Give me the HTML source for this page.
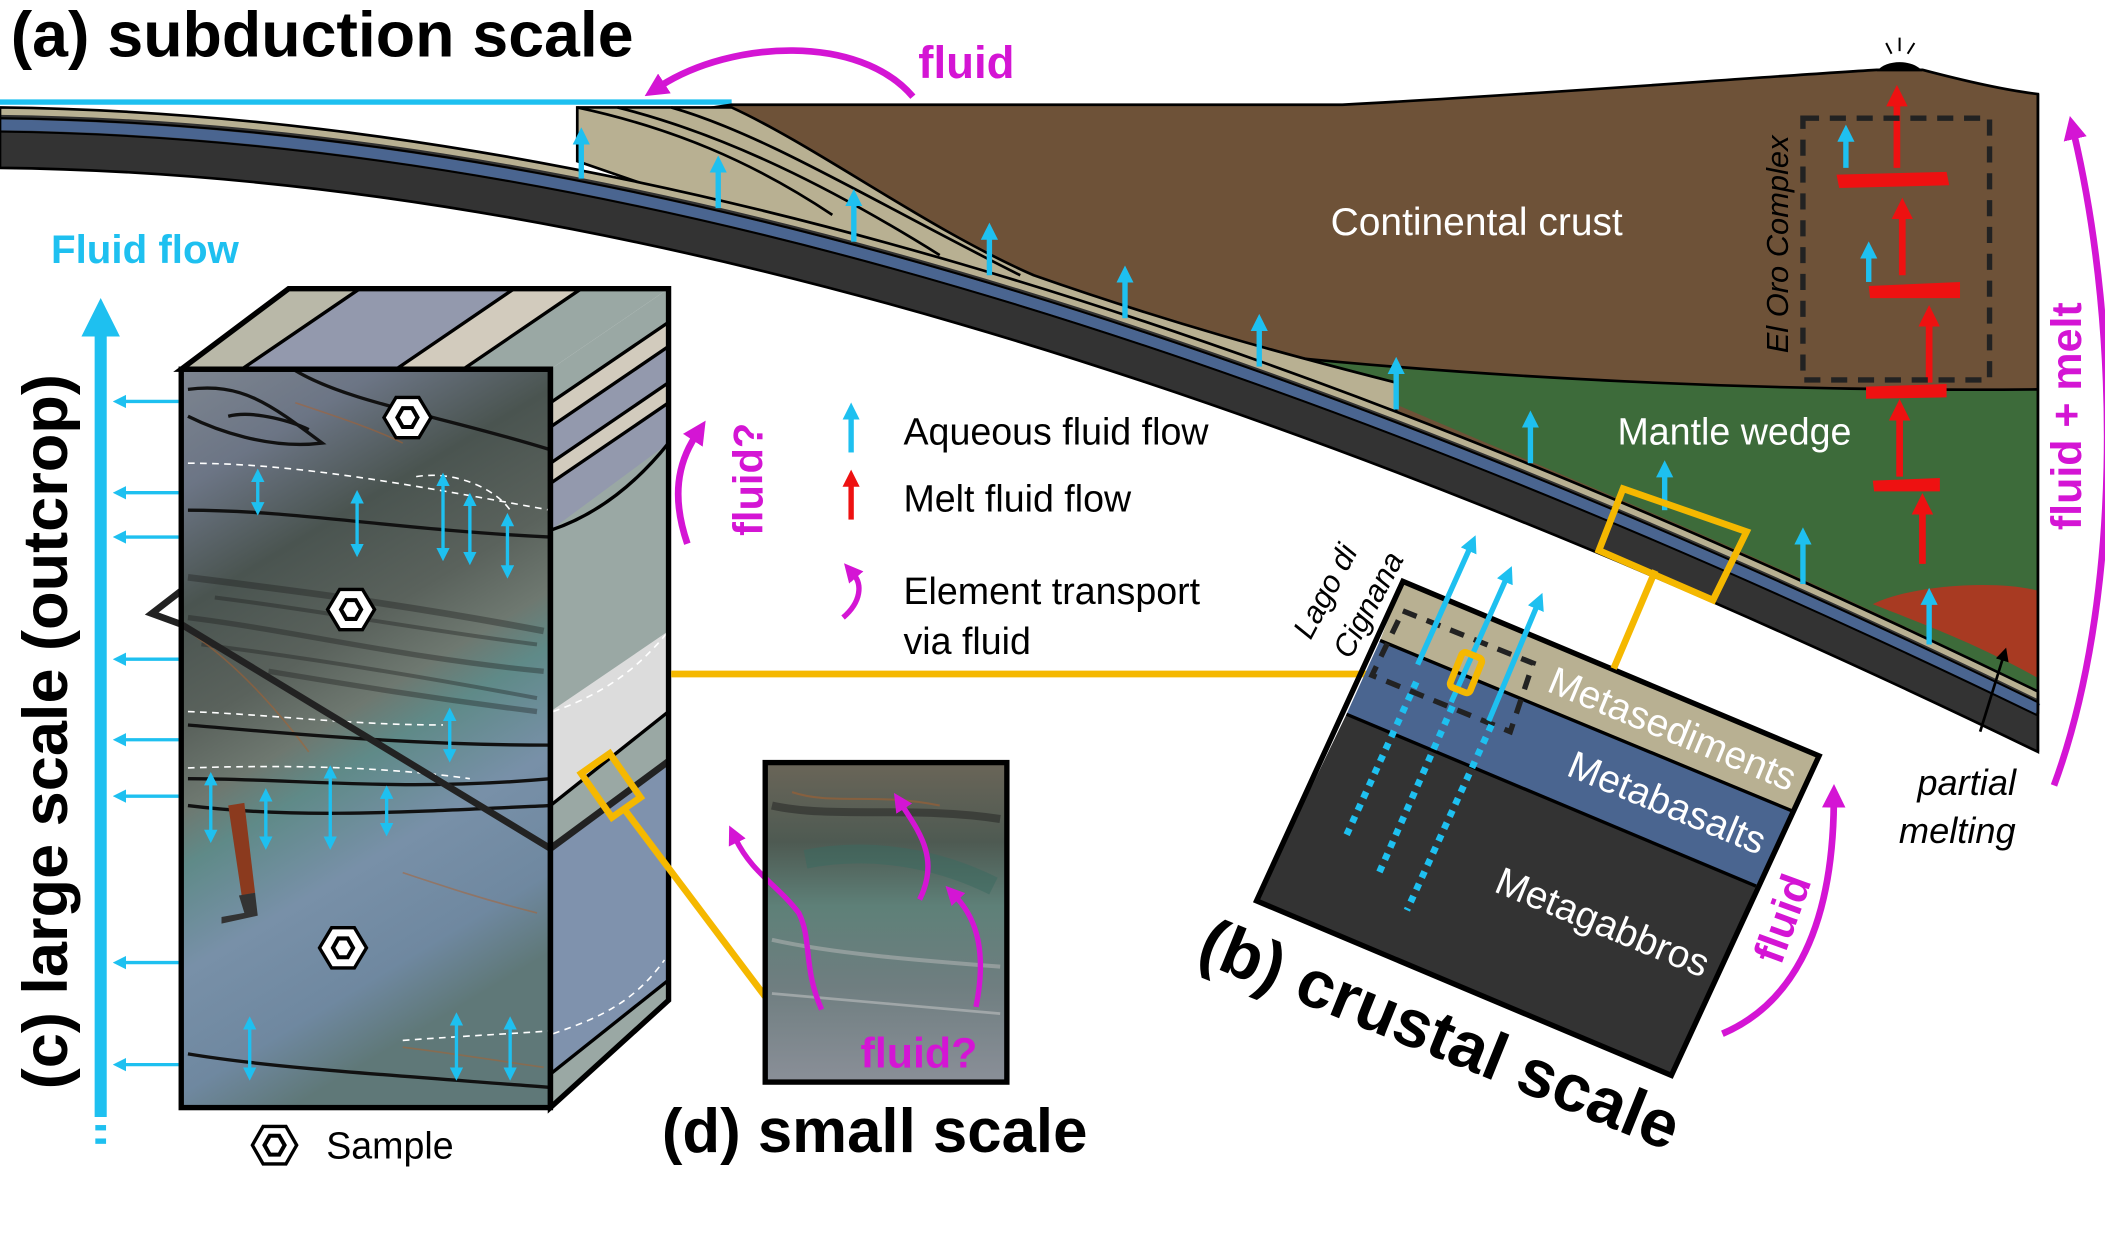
<!DOCTYPE html>
<html><head><meta charset="utf-8"><style>
html,body{margin:0;padding:0;background:#fff;}
svg{display:block;}
text{font-family:"Liberation Sans",Arial,sans-serif;}
</style></head><body>
<svg width="2105" height="1258" viewBox="0 0 1568 937" xmlns="http://www.w3.org/2000/svg">
<defs>
<marker id="hc" viewBox="0 0 10 10" refX="2" refY="5" markerWidth="3.2" markerHeight="3.2" orient="auto-start-reverse"><path d="M0,0 L10,5 L0,10 z" fill="#1ec0f0"/></marker>
<marker id="hc2" viewBox="0 0 10 10" refX="2" refY="5" markerWidth="4" markerHeight="4" orient="auto-start-reverse"><path d="M0,0 L10,5 L0,10 z" fill="#1ec0f0"/></marker>
<marker id="hr" viewBox="0 0 10 10" refX="2" refY="5" markerWidth="3.2" markerHeight="3.2" orient="auto"><path d="M0,0 L10,5 L0,10 z" fill="#ee1111"/></marker>
<marker id="hm" viewBox="0 0 10 10" refX="2" refY="5" markerWidth="3.5" markerHeight="3.5" orient="auto"><path d="M0,0 L10,5 L0,10 z" fill="#d415d4"/></marker>
<marker id="hk" viewBox="0 0 10 10" refX="2" refY="5" markerWidth="5" markerHeight="5" orient="auto"><path d="M0,0 L10,5 L0,10 z" fill="#000"/></marker>
<linearGradient id="photo" x1="0" y1="0" x2="0.3" y2="1">
<stop offset="0" stop-color="#7d8590"/><stop offset="0.15" stop-color="#6c7585"/><stop offset="0.3" stop-color="#4a5450"/><stop offset="0.45" stop-color="#5a625c"/><stop offset="0.55" stop-color="#6e7870"/><stop offset="0.62" stop-color="#5f8a88"/><stop offset="0.75" stop-color="#7890a8"/><stop offset="0.9" stop-color="#6f88a0"/><stop offset="1" stop-color="#5f7878"/>
</linearGradient>
<linearGradient id="photo2" x1="0" y1="0" x2="0" y2="1">
<stop offset="0" stop-color="#6a6558"/><stop offset="0.25" stop-color="#4e5a52"/><stop offset="0.45" stop-color="#5e8078"/><stop offset="0.7" stop-color="#6f7e80"/><stop offset="1" stop-color="#8a8f98"/>
</linearGradient>
</defs>

<!-- ===== (a) subduction ===== -->
<text x="8" y="42" font-size="48" font-weight="bold">(a) subduction scale</text>
<line x1="0" y1="76" x2="545" y2="76" stroke="#1ec0f0" stroke-width="4"/>
<!-- brown crust -->
<path d="M545,78 L1000,78 C1150,70 1300,58 1398,52 L1432,52 C1470,62 1500,68 1518,70 L1518,530 C1100,330 700,170 430,95 Z" fill="#6e5238" stroke="#000" stroke-width="2"/>
<!-- mantle wedge -->
<path d="M960,266 C1100,280 1300,292 1518,290 L1518,515 C1300,405 1100,330 960,266 Z" fill="#3d6b3a"/>
<path d="M960,266 C1100,280 1300,292 1518,290" fill="none" stroke="#000" stroke-width="2"/>
<path d="M1395,450 C1425,435 1490,432 1518,440 L1518,505 C1470,478 1425,462 1395,450 Z" fill="#a83a22"/>
<!-- tan wedge -->
<path d="M430,80 L545,80 C610,110 690,170 770,205 C870,240 950,262 1040,285 L1040,330 L430,120 Z" fill="#b8b092" stroke="#000" stroke-width="2"/>
<path d="M430,80 C500,95 560,120 620,160" fill="none" stroke="#000" stroke-width="2"/>
<path d="M460,80 C540,100 620,140 700,190" fill="none" stroke="#000" stroke-width="2"/>
<path d="M500,80 C570,100 650,150 760,205" fill="none" stroke="#000" stroke-width="2"/>
<!-- slab -->
<path d="M0,80 C450,85 950,240 1518,515 L1518,560 C950,285 450,130 0,125 Z" fill="#333"/>
<path d="M0,83 C450,88 950,243 1518,518" fill="none" stroke="#b8b092" stroke-width="5"/>
<path d="M0,93 C450,98 950,253 1518,528" fill="none" stroke="#4a6590" stroke-width="8"/>
<path d="M0,88 C450,93 950,248 1518,523" fill="none" stroke="#000" stroke-width="1.5"/>
<path d="M0,98 C450,103 950,258 1518,533" fill="none" stroke="#000" stroke-width="1.5"/>
<path d="M0,80 C450,85 950,240 1518,515 L1518,560 C950,285 450,130 0,125 Z" fill="none" stroke="#000" stroke-width="2"/>
<line x1="1518" y1="70" x2="1518" y2="560" stroke="#000" stroke-width="2"/>
<!-- volcano -->
<path d="M1398,53 C1405,44 1425,44 1432,53 Z" fill="#000"/>
<path d="M1409,40 L1405,32 M1415,38 L1415,28 M1421,40 L1426,32" stroke="#000" stroke-width="1.5"/>
<!-- slab arrows -->
<g stroke="#1ec0f0" stroke-width="4" marker-end="url(#hc)">
<line x1="433" y1="133" x2="433" y2="105"/><line x1="535" y1="155" x2="535" y2="126"/>
<line x1="636" y1="180" x2="636" y2="151"/><line x1="737" y1="205" x2="737" y2="176"/>
<line x1="838" y1="237" x2="838" y2="208"/><line x1="938" y1="273" x2="938" y2="244"/>
<line x1="1040" y1="305" x2="1040" y2="276"/><line x1="1140" y1="345" x2="1140" y2="316"/>
<line x1="1240" y1="380" x2="1240" y2="353"/><line x1="1343" y1="435" x2="1343" y2="403"/>
<line x1="1437" y1="480" x2="1437" y2="448"/>
<line x1="1375" y1="125" x2="1375" y2="103"/><line x1="1392" y1="210" x2="1392" y2="190"/>
</g>
<!-- red melt -->
<g stroke="#ee1111" stroke-width="5" marker-end="url(#hr)">
<line x1="1413" y1="125" x2="1413" y2="76"/><line x1="1417" y1="205" x2="1417" y2="160"/>
<line x1="1437" y1="285" x2="1437" y2="240"/><line x1="1415" y1="355" x2="1415" y2="310"/>
<line x1="1432" y1="420" x2="1432" y2="380"/>
</g>
<g fill="#ee1111">
<path d="M1368,130 L1450,128 L1452,138 L1370,140 Z"/>
<path d="M1392,213 L1460,210 L1460,222 L1393,222 Z"/>
<path d="M1390,288 L1450,286 L1450,296 L1390,297 Z"/>
<path d="M1395,358 L1445,356 L1445,366 L1396,366 Z"/>
</g>
<rect x="1343" y="88" width="139" height="195" fill="none" stroke="#222" stroke-width="4" stroke-dasharray="12,8"/>
<text transform="translate(1332,182) rotate(-90)" text-anchor="middle" font-size="23" font-style="italic">El Oro Complex</text>
<text x="1100" y="175" text-anchor="middle" font-size="29" fill="#fff">Continental crust</text>
<text x="1292" y="331" text-anchor="middle" font-size="28" fill="#fff">Mantle wedge</text>
<text x="1465" y="592" text-anchor="middle" font-size="27" font-style="italic">partial</text>
<text x="1458" y="628" text-anchor="middle" font-size="27" font-style="italic">melting</text>
<line x1="1475" y1="545" x2="1492" y2="490" stroke="#000" stroke-width="2" marker-end="url(#hk)"/>
<!-- fluid arrows -->
<path d="M680,72 C640,25 545,30 492,64" fill="none" stroke="#d415d4" stroke-width="5" marker-end="url(#hm)"/>
<text x="684" y="58" font-size="34" font-weight="bold" fill="#d415d4">fluid</text>
<path d="M1530,585 C1580,450 1580,250 1545,100" fill="none" stroke="#d415d4" stroke-width="5" marker-end="url(#hm)"/>
<text transform="translate(1550,310) rotate(-90)" text-anchor="middle" font-size="32" font-weight="bold" fill="#d415d4">fluid + melt</text>

<!-- legend -->
<line x1="634" y1="337" x2="634" y2="310" stroke="#1ec0f0" stroke-width="4" marker-end="url(#hc)"/>
<text x="673" y="331" font-size="28">Aqueous fluid flow</text>
<line x1="634" y1="387" x2="634" y2="360" stroke="#ee1111" stroke-width="4" marker-end="url(#hr)"/>
<text x="673" y="381" font-size="28">Melt fluid flow</text>
<path d="M628,460 C642,448 642,435 636,428" fill="none" stroke="#d415d4" stroke-width="4" marker-end="url(#hm)"/>
<text x="673" y="450" font-size="28">Element transport</text>
<text x="673" y="487" font-size="28">via fluid</text>

<!-- ===== (c) ===== -->
<text x="38" y="196" font-size="30" font-weight="bold" fill="#1ec0f0">Fluid flow</text>
<line x1="75" y1="832" x2="75" y2="245" stroke="#1ec0f0" stroke-width="9" marker-end="url(#hc)"/>
<rect x="71" y="838" width="8" height="4" fill="#1ec0f0"/><rect x="71" y="848" width="8" height="4" fill="#1ec0f0"/>
<g stroke="#1ec0f0" stroke-width="2.5" marker-end="url(#hc2)">
<line x1="133" y1="299" x2="92" y2="299"/><line x1="133" y1="367" x2="92" y2="367"/>
<line x1="133" y1="400" x2="92" y2="400"/><line x1="133" y1="491" x2="92" y2="491"/>
<line x1="133" y1="551" x2="92" y2="551"/><line x1="133" y1="593" x2="92" y2="593"/>
<line x1="133" y1="717" x2="92" y2="717"/><line x1="133" y1="793" x2="92" y2="793"/>
</g>
<text transform="translate(50,545) rotate(-90)" text-anchor="middle" font-size="47" font-weight="bold">(c) large scale (outcrop)</text>

<!-- top face -->
<polygon points="135,275 215,215 498,215 410,275" fill="#9aa8a4"/>
<polygon points="135,275 215,215 268,215 180,275" fill="#b9b8a8"/>
<polygon points="180,275 268,215 383,215 295,275" fill="#9399ad"/>
<polygon points="295,275 383,215 433,215 345,275" fill="#d2cbbd"/>
<g stroke="#000" stroke-width="2.5"><line x1="180" y1="275" x2="268" y2="215"/><line x1="295" y1="275" x2="383" y2="215"/><line x1="345" y1="275" x2="433" y2="215"/></g>
<!-- right face -->
<polygon points="410,275 498,215 498,745 410,825" fill="#9aa8a4"/>
<polygon points="410,300 498,240 498,258 410,318" fill="#d2cbbd"/>
<polygon points="410,318 498,258 498,285 410,345" fill="#9399ad"/>
<polygon points="410,345 498,285 498,300 410,360" fill="#d2cbbd"/>
<polygon points="410,360 498,300 498,330 410,395" fill="#9399ad"/>
<polygon points="410,530 498,470 498,530 410,600" fill="#dcdcdc"/>
<polygon points="410,632 498,567 498,730 410,800" fill="#7f92ad"/>
<g stroke="#000" stroke-width="2.5" fill="none">
<line x1="410" y1="300" x2="498" y2="240"/><line x1="410" y1="318" x2="498" y2="258"/>
<line x1="410" y1="345" x2="498" y2="285"/><line x1="410" y1="360" x2="498" y2="300"/>
<path d="M410,395 C440,385 470,365 498,330"/><line x1="410" y1="600" x2="498" y2="530"/>
<line x1="410" y1="800" x2="498" y2="730"/>
</g>
<line x1="410" y1="632" x2="498" y2="567" stroke="#222" stroke-width="5"/>
<path d="M412,530 C440,520 470,505 498,470" stroke="#fff" stroke-width="1.2" stroke-dasharray="5,4" fill="none"/>
<path d="M412,770 C440,760 470,750 495,715" stroke="#fff" stroke-width="1.2" stroke-dasharray="5,4" fill="none"/>
<!-- front photo -->
<rect x="135" y="275" width="275" height="550" fill="url(#photo)"/>
<g opacity="0.35" stroke="#1a1a1a" fill="none">
<path d="M140,430 C220,440 300,450 405,470" stroke-width="5"/><path d="M140,460 C220,470 300,490 405,500" stroke-width="4"/>
<path d="M150,480 C230,490 320,505 400,520" stroke-width="3"/><path d="M160,445 C240,455 320,470 400,480" stroke-width="3"/>
<path d="M200,500 C260,510 320,520 400,530" stroke-width="4"/>
</g>
<g opacity="0.5" stroke="#b0602a" fill="none" stroke-width="1.2">
<path d="M140,470 C170,490 200,520 230,560"/><path d="M300,650 C330,660 360,670 400,680"/><path d="M300,780 C340,785 370,790 405,795"/><path d="M220,300 C250,310 280,320 300,330"/>
</g>
<g stroke="#111" stroke-width="2.5" fill="none">
<path d="M220,276 C260,300 330,310 410,335"/>
<path d="M140,290 C180,285 200,300 240,330 C200,335 160,320 140,310"/>
<path d="M170,310 C190,305 220,315 230,320"/>
<path d="M140,380 C220,380 300,395 410,400"/>
<path d="M140,540 C200,545 300,555 410,555"/>
<path d="M140,580 C220,580 300,590 410,580"/>
<path d="M140,600 C220,610 300,605 410,600"/>
<path d="M140,785 C200,795 280,800 410,810"/>
</g>
<g stroke="#fff" stroke-width="1.2" stroke-dasharray="5,4" fill="none">
<path d="M140,345 C220,345 300,360 410,380"/>
<path d="M140,530 C200,532 260,540 330,540"/>
<path d="M140,572 C200,570 280,570 350,580"/>
<path d="M310,355 C340,350 370,365 380,380"/>
<path d="M300,775 C340,772 380,770 408,768"/>
</g>
<polyline points="135,440 113,457 135,465 410,632" fill="none" stroke="#222" stroke-width="5"/>
<rect x="135" y="275" width="275" height="550" fill="none" stroke="#000" stroke-width="4"/>
<polygon points="135,275 215,215 498,215 498,745 410,825 410,275" fill="none" stroke="#000" stroke-width="4"/>
<!-- hammer -->
<path d="M170,600 L182,598 L190,665 L180,667 Z" fill="#8b3a1e"/>
<path d="M178,667 L190,665 L192,682 L165,688 L165,683 L182,680 Z" fill="#333"/>
<!-- double arrows -->
<g stroke="#1ec0f0" stroke-width="2.5" marker-start="url(#hc2)" marker-end="url(#hc2)">
<line x1="192" y1="357" x2="192" y2="376"/><line x1="266" y1="373" x2="266" y2="407"/>
<line x1="330" y1="360" x2="330" y2="410"/><line x1="350" y1="375" x2="350" y2="413"/>
<line x1="378" y1="390" x2="378" y2="423"/><line x1="335" y1="535" x2="335" y2="560"/>
<line x1="157" y1="583" x2="157" y2="620"/><line x1="198" y1="595" x2="198" y2="625"/>
<line x1="246" y1="578" x2="246" y2="625"/><line x1="288" y1="593" x2="288" y2="615"/>
<line x1="186" y1="765" x2="186" y2="797"/><line x1="340" y1="762" x2="340" y2="797"/>
<line x1="380" y1="765" x2="380" y2="797"/>
</g>
<!-- hexagons -->
<g stroke="#000" stroke-width="2.5">
<polygon points="286,311 295,296 312,296 321,311 312,326 295,326" fill="#fff"/><polygon points="296,311 300,304 307,304 311,311 307,318 300,318" fill="none" stroke-width="3"/>
<polygon points="244,454 253,439 270,439 279,454 270,469 253,469" fill="#fff"/><polygon points="254,454 258,447 265,447 269,454 265,461 258,461" fill="none" stroke-width="3"/>
<polygon points="238,706 247,691 264,691 273,706 264,721 247,721" fill="#fff"/><polygon points="248,706 252,699 259,699 263,706 259,713 252,713" fill="none" stroke-width="3"/>
<polygon points="188,853 196,839 213,839 221,853 213,867 196,867" fill="#fff"/><polygon points="197,853 201,846 208,846 212,853 208,860 201,860" fill="none" stroke-width="3"/>
</g>
<text x="243" y="863" font-size="28">Sample</text>
<!-- fluid? near c -->
<path d="M512,405 C500,370 505,345 518,325" fill="none" stroke="#d415d4" stroke-width="5" marker-end="url(#hm)"/>
<text transform="translate(568,357) rotate(-90)" text-anchor="middle" font-size="31" font-weight="bold" fill="#d415d4">fluid?</text>
<!-- yellow connectors -->
<line x1="500" y1="502" x2="1088" y2="502" stroke="#f5b800" stroke-width="5"/>
<g transform="translate(455,585) rotate(-35)"><rect x="-13" y="-20" width="26" height="40" fill="none" stroke="#f5b800" stroke-width="5"/></g>
<line x1="466" y1="604" x2="572" y2="745" stroke="#f5b800" stroke-width="5"/>

<!-- ===== (d) ===== -->
<rect x="570" y="568" width="180" height="238" fill="url(#photo2)"/>
<g opacity="0.5" fill="none">
<path d="M575,600 C620,610 680,600 745,610" stroke="#222" stroke-width="6"/>
<path d="M575,700 C620,710 680,715 745,720" stroke="#bbb" stroke-width="3"/>
<path d="M575,740 C630,745 690,750 745,755" stroke="#ccc" stroke-width="2"/>
<path d="M600,640 C650,630 700,640 740,660" stroke="#3a6a60" stroke-width="14"/>
<path d="M590,590 C620,600 650,590 700,600" stroke="#b0602a" stroke-width="1.5"/>
</g>
<g fill="none" stroke="#d415d4" stroke-width="4">
<path d="M612,752 C598,720 605,700 595,680 C580,660 560,650 548,625" marker-end="url(#hm)"/>
<path d="M685,670 C700,640 685,620 672,600" marker-end="url(#hm)"/>
<path d="M727,750 C735,710 728,685 712,668" marker-end="url(#hm)"/>
</g>
<text x="641" y="795" font-size="32" font-weight="bold" fill="#d415d4">fluid?</text>
<rect x="570" y="568" width="180" height="238" fill="none" stroke="#000" stroke-width="4"/>
<text x="493" y="858" font-size="46" font-weight="bold">(d) small scale</text>

<!-- ===== (b) ===== -->
<polygon points="1045,433 1355,563 1335,604 1028,477" fill="#b8b092"/>
<polygon points="1028,477 1335,604 1308,660 1003,532" fill="#4a6590"/>
<polygon points="1003,532 1308,660 1245,801 936,671" fill="#333"/>
<g stroke="#000" stroke-width="2.5" fill="none">
<line x1="1028" y1="477" x2="1335" y2="604"/><line x1="1003" y1="532" x2="1308" y2="660"/>
<polygon points="1045,433 1355,563 1245,801 936,671" stroke-width="4"/>
</g>
<polygon points="1045,455 1142,494 1125,545 1022,503" fill="none" stroke="#222" stroke-width="4" stroke-dasharray="11,8"/>
<g stroke="#1ec0f0" stroke-width="5" stroke-dasharray="5,5" fill="none">
<line x1="1055" y1="508" x2="1003" y2="622"/><line x1="1082" y1="526" x2="1026" y2="653"/><line x1="1111" y1="540" x2="1048" y2="678"/>
</g>
<g stroke="#1ec0f0" stroke-width="4" marker-end="url(#hc)">
<line x1="1056" y1="495" x2="1095" y2="408"/><line x1="1081" y1="523" x2="1122" y2="431"/><line x1="1109" y1="537" x2="1145" y2="451"/>
</g>
<g transform="translate(1092,501) rotate(22)"><rect x="-8" y="-14" width="16" height="28" rx="3" fill="none" stroke="#f5b800" stroke-width="5"/></g>
<polygon points="1209,364 1301,396 1276,447 1191,410" fill="none" stroke="#f5b800" stroke-width="5"/>
<line x1="1233" y1="425" x2="1202" y2="498" stroke="#f5b800" stroke-width="5"/>
<text transform="translate(1242,552) rotate(22.5)" text-anchor="middle" font-size="29" fill="#fff">Metasediments</text>
<text transform="translate(1238,607) rotate(22.5)" text-anchor="middle" font-size="29" fill="#fff">Metabasalts</text>
<text transform="translate(1190,696) rotate(22.5)" text-anchor="middle" font-size="29" fill="#fff">Metagabbros</text>
<text transform="translate(994,444) rotate(-62)" text-anchor="middle" font-size="23" font-style="italic">Lago di</text>
<text transform="translate(1026,454) rotate(-62)" text-anchor="middle" font-size="23" font-style="italic">Cignana</text>
<text transform="translate(890,715) rotate(22)" font-size="50" font-weight="bold">(b) crustal scale</text>
<path d="M1283,770 C1330,750 1365,700 1366,598" fill="none" stroke="#d415d4" stroke-width="5" marker-end="url(#hm)"/>
<text transform="translate(1338,688) rotate(-70)" text-anchor="middle" font-size="32" font-weight="bold" fill="#d415d4">fluid</text>
</svg>
</body></html>
